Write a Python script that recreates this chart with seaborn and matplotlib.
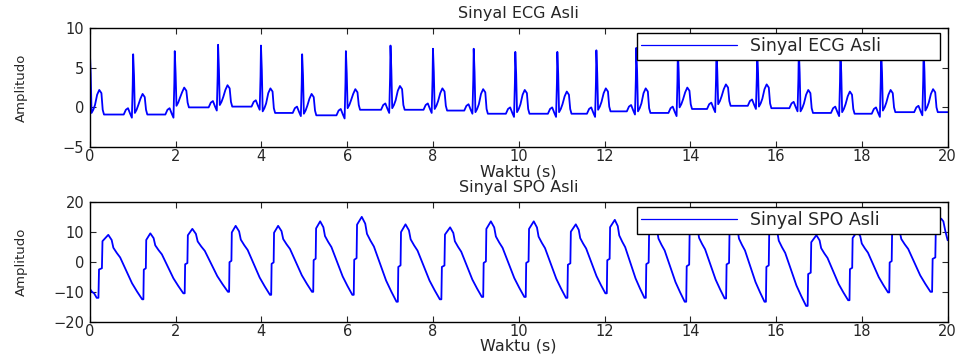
import numpy as np
import pandas as pd
import matplotlib
matplotlib.use("Agg")
import matplotlib.pyplot as plt
import seaborn as sns

# %% Data
# ECG: R-peak times (s), R-peak heights, T-wave heights, baseline after each beat
ecg_r_time = [0.0, 1.01, 1.98, 2.99, 3.99, 4.95, 5.97, 7.01, 8.0, 8.95, 9.92,
              10.9, 11.81, 12.74, 13.71, 14.61, 15.56, 16.53, 17.5, 18.45, 19.44]
ecg_r_amp = [7.1, 6.7, 7.1, 7.9, 7.8, 6.7, 7.1, 7.8, 7.4, 7.4, 7.0,
             7.0, 7.2, 7.5, 7.3, 7.4, 7.2, 7.3, 7.2, 7.3, 7.4]
ecg_t_amp = [2.2, 1.7, 2.5, 2.8, 2.4, 1.7, 2.3, 2.7, 2.4, 2.3, 2.2,
             2.0, 2.4, 2.4, 2.5, 2.9, 2.9, 2.2, 2.0, 2.2, 2.3]
ecg_base = [-0.9, -0.9, 0.0, 0.1, -0.7, -1.0, -0.3, -0.3, -0.4, -0.8, -0.8,
            -0.8, -0.5, -0.7, -0.2, 0.2, -0.1, -0.7, -0.8, -0.6, -0.6]

# beat shape read from one beat: offset from R (s) and level above the baseline
ecg_pre_off = [-0.22, -0.17, -0.12, -0.07, -0.03]
ecg_pre_val = [0.0, 0.6, 0.8, 0.1, -0.4]
ecg_st_off = [0.04, 0.08, 0.12]
ecg_st_val = [0.2, 0.6, 1.2]
ecg_tw_off = [0.17, 0.22, 0.27]      # T wave, relative to T height
ecg_tw_val = [-0.6, 0.0, -0.4]
ecg_end_off = [0.30, 0.33]
ecg_end_val = [0.6, 0.0]

# SPO: trough and peak of every pulse (time s, value)
spo_trough_time = [0.16, 1.22, 2.18, 3.22, 4.2, 5.18, 6.12, 7.15, 8.16, 9.14, 10.13,
                   11.1, 12.02, 12.93, 13.87, 14.8, 15.73, 16.7, 17.68, 18.61, 19.6]
spo_trough_val = [-12.0, -12.5, -10.5, -10.0, -11.0, -10.0, -11.0, -13.3, -12.5, -11.7, -11.7,
                  -12.0, -10.5, -12.0, -13.3, -12.2, -13.3, -14.7, -12.8, -10.2, -10.0]
spo_peak_time = [0.43, 1.41, 2.39, 3.4, 4.39, 5.37, 6.34, 7.36, 8.4, 9.35, 10.35,
                 11.33, 12.24, 13.15, 14.1, 15.03, 15.95, 16.94, 17.89, 18.8, 19.85]
spo_peak_val = [9.0, 9.5, 11.0, 12.0, 12.0, 13.5, 15.0, 12.5, 11.5, 13.5, 13.5,
                12.5, 14.0, 13.0, 13.0, 13.0, 12.5, 8.9, 10.2, 12.0, 14.4]
# pulse shape read from one pulse (fraction of time, fraction of swing)
spo_rise_s = [0.15, 0.2, 0.45, 0.5, 0.75]
spo_rise_f = [0.0, 0.45, 0.47, 0.9, 0.95]
spo_fall_s = [0.1, 0.15, 0.25, 0.35, 0.5, 0.7, 0.85]
spo_fall_f = [0.08, 0.2, 0.28, 0.35, 0.52, 0.75, 0.88]
spo_head_time = [0.0, 0.05, 0.1]
spo_head_val = [-9.0, -10.0, -10.5]
spo_tail_time = [19.9, 19.95, 20.0]
spo_tail_val = [13.5, 10.0, 7.2]

# %% Build the vertex tables
ecg_t, ecg_v = [], []
for i, tr in enumerate(ecg_r_time):
    b, r, a = ecg_base[i], ecg_r_amp[i], ecg_t_amp[i]
    if i > 0:
        bp = ecg_base[i - 1]
        ecg_t += [tr + o for o in ecg_pre_off] + [tr - 0.01]
        ecg_v += [bp + v for v in ecg_pre_val] + [bp + 0.5 * (r - bp)]
    ecg_t += [tr, tr + 0.02]
    ecg_v += [r, 0.6 * r]
    ecg_t += [tr + o for o in ecg_st_off + ecg_tw_off + ecg_end_off]
    ecg_v += [b + v for v in ecg_st_val] + [a + v for v in ecg_tw_val] + [b + v for v in ecg_end_val]
ecg_t.append(20.0)
ecg_v.append(ecg_base[-1])
ecg = pd.DataFrame({"Waktu": ecg_t, "Amplitudo": ecg_v})

spo_t, spo_v = list(spo_head_time), list(spo_head_val)
for i in range(len(spo_trough_time)):
    tt, tv = spo_trough_time[i], spo_trough_val[i]
    tp, pv = spo_peak_time[i], spo_peak_val[i]
    spo_t += [tt] + [tt + s * (tp - tt) for s in spo_rise_s] + [tp]
    spo_v += [tv] + [tv + f * (pv - tv) for f in spo_rise_f] + [pv]
    if i + 1 < len(spo_trough_time):
        tn, nv = spo_trough_time[i + 1], spo_trough_val[i + 1]
        spo_t += [tp + s * (tn - tp) for s in spo_fall_s]
        spo_v += [pv + f * (nv - pv) for f in spo_fall_f]
spo_t += spo_tail_time
spo_v += spo_tail_val
spo = pd.DataFrame({"Waktu": spo_t, "Amplitudo": spo_v})

# %% Plot
sns.set_style("ticks")
plt.rcParams['font.family'] = ['DejaVu Sans']
plt.rcParams['xtick.direction'] = 'in'
plt.rcParams['ytick.direction'] = 'in'

fig = plt.figure(figsize=(9.66, 3.56), dpi=100)
ax1 = fig.add_axes([0.093, 0.587, 0.888, 0.334])
ax2 = fig.add_axes([0.093, 0.096, 0.888, 0.337])

panels = [(ax1, ecg, "Sinyal ECG Asli", (-5, 10), [-5, 0, 5, 10]),
          (ax2, spo, "Sinyal SPO Asli", (-20, 20), [-20, -10, 0, 10, 20])]

for ax, df, name, ylim, yticks in panels:
    sns.lineplot(data=df, x="Waktu", y="Amplitudo", ax=ax, color="#0000ff",
                 lw=1.3, sort=False, estimator=None, label=name)
    ax.set_xlim(0, 20)
    ax.set_ylim(*ylim)
    ax.set_xticks(np.arange(0, 21, 2))
    ax.set_yticks(yticks)
    ax.tick_params(top=True, right=True, length=4, width=0.8, labelsize=10.5)
    ax.tick_params(axis="x", pad=1.5)
    ax.tick_params(axis="y", pad=4)
    for sp in ax.spines.values():
        sp.set_linewidth(1.0)
        sp.set_color("black")
    ax.set_title(name, fontsize=11.5, pad=7)
    ax.set_xlabel("Waktu (s)", fontsize=11.5, labelpad=0)
    ax.set_ylabel("Amplitudo", fontsize=9.5)
    ax.yaxis.set_label_coords(-0.072, 0.5)
    leg = ax.legend(loc="upper left", bbox_to_anchor=(0.6375, 0.0, 0.3535, 0.958),
                    mode="expand", borderaxespad=0, fancybox=False, framealpha=1,
                    edgecolor="black", fontsize=12.5, handlelength=5.5,
                    handletextpad=0.8, borderpad=0.25)
    leg.get_frame().set_linewidth(1.0)
    leg.get_lines()[0].set_linewidth(0.9)

fig.savefig("out.png", dpi=100)
